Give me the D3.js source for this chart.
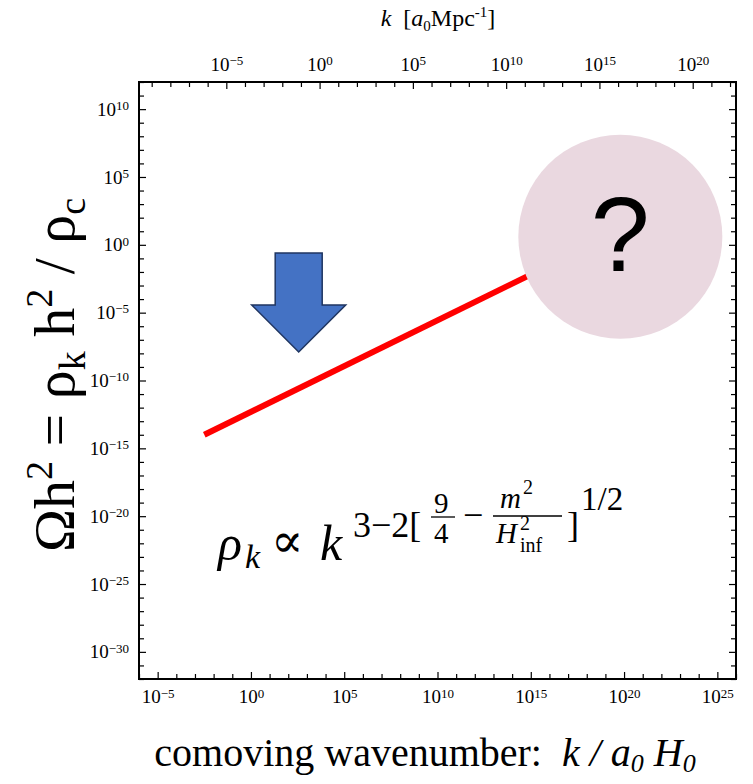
<!DOCTYPE html>
<html>
<meta charset="utf-8">
<head>
<script src="https://d3js.org/d3.v7.min.js"></script>
<title>relic energy density vs k</title>
<style>
html, body {
	margin: 0;
	padding: 0;
	background: #fff;
}
svg {
	display: block;
	font-family: 'Liberation Serif', 'DejaVu Serif', serif;
}
</style>
</head>
<body>
<svg width="753" height="784"></svg>
<script>
// ---- data (log10 exponents) ----
var xDomainExp = [-6, 26];          // k / a0 H0
var yDomainExp = [-32, 12];         // Omega h^2
var topOffsetExp = 3.68;            // k [a0 Mpc^-1] = (k / a0 H0) / 10^3.68
var xMajor = [-5, 0, 5, 10, 15, 20, 25];
var topMajor = [-5, 0, 5, 10, 15, 20];
var yMajor = [10, 5, 0, -5, -10, -15, -20, -25, -30];
var lineKExp = [-2.5, 18];
var lineOmegaExp = [-14, -0.17];
var blobKExp = 19.8, blobOmegaExp = 0.6;
var arrowKExp = 2.56, arrowTopExp = -0.6, arrowTipExp = -7.9;

var pLeft = 139, pRight = 736, pTop = 82, pBottom = 679;
var svg = d3.select("svg");

var x = d3.scaleLog()
	.domain(xDomainExp.map(function(e) { return Math.pow(10, e); }))
	.range([pLeft, pRight]);
var xTop = d3.scaleLog()
	.domain(xDomainExp.map(function(e) { return Math.pow(10, e - topOffsetExp); }))
	.range([pLeft, pRight]);
var y = d3.scaleLog()
	.domain(yDomainExp.map(function(e) { return Math.pow(10, e); }))
	.range([pBottom, pTop]);

function decades(lo, hi) {
	return d3.range(Math.ceil(lo), Math.floor(hi) + 1).map(function(e) { return Math.pow(10, e); });
}
function expOf(d) { return Math.round(Math.log10(d)); }

// label "10^e" with a superscript
function powLabel(sel, majors) {
	sel.each(function(d) {
		var t = d3.select(this).text(null);
		var e = expOf(d);
		if (majors.indexOf(e) < 0) return;
		t.append("tspan").text("10");
		t.append("tspan").attr("dy", "-0.45em").attr("font-size", 13)
			.text(String(e).replace("-", "\u2212"));
	});
}

// attr: which end of the tick line to set, sign: direction into the plot
function styleAxis(g, majors, attr, sign) {
	g.attr("font-family", null).attr("font-size", 19);
	g.select(".domain").remove();
	g.selectAll(".tick line")
		.attr("stroke", "#000")
		.attr("stroke-width", 1.2)
		.attr(attr, function(d) { return sign * (majors.indexOf(expOf(d)) >= 0 ? 7 : 5); });
	g.selectAll(".tick text").attr("fill", "#000").call(powLabel, majors);
}

var xTicks = decades(xDomainExp[0], xDomainExp[1]);
var topTicks = decades(xDomainExp[0] - topOffsetExp, xDomainExp[1] - topOffsetExp);
var yTicks = decades(yDomainExp[0], yDomainExp[1]);

// bottom
var gB = svg.append("g").attr("transform", "translate(0," + pBottom + ")")
	.call(d3.axisBottom(x).tickValues(xTicks).tickSizeInner(-5).tickSizeOuter(0).tickPadding(11));
styleAxis(gB, xMajor, "y2", -1);
// top
var gT = svg.append("g").attr("transform", "translate(0," + pTop + ")")
	.call(d3.axisTop(xTop).tickValues(topTicks).tickSizeInner(-5).tickSizeOuter(0).tickPadding(11));
styleAxis(gT, topMajor, "y2", 1);
// left
var gL = svg.append("g").attr("transform", "translate(" + pLeft + ",0)")
	.call(d3.axisLeft(y).tickValues(yTicks).tickSizeInner(-5).tickSizeOuter(0).tickPadding(10));
styleAxis(gL, yMajor, "x2", 1);
// right (ticks only)
var gR = svg.append("g").attr("transform", "translate(" + pRight + ",0)")
	.call(d3.axisRight(y).tickValues(yTicks).tickSizeInner(-5).tickSizeOuter(0));
styleAxis(gR, [], "x2", -1);
gR.selectAll(".tick line").attr("x2", function(d) { return yMajor.indexOf(expOf(d)) >= 0 ? -7 : -5; });

// frame
svg.append("rect")
	.attr("x", pLeft).attr("y", pTop)
	.attr("width", pRight - pLeft).attr("height", pBottom - pTop)
	.attr("fill", "none").attr("stroke", "#000").attr("stroke-width", 2);

// red power-law line
var lineData = lineKExp.map(function(e, i) {
	return [Math.pow(10, e), Math.pow(10, lineOmegaExp[i])];
});
svg.append("path")
	.datum(lineData)
	.attr("d", d3.line().x(function(d) { return x(d[0]); }).y(function(d) { return y(d[1]); }))
	.attr("stroke", "#ff0000")
	.attr("stroke-width", 6)
	.attr("fill", "none");

// unknown region blob
var bx = x(Math.pow(10, blobKExp)), by = y(Math.pow(10, blobOmegaExp));
svg.append("circle")
	.attr("cx", bx).attr("cy", by).attr("r", 102)
	.attr("fill", "#ead8e0");
svg.append("text")
	.attr("x", bx).attr("y", by + 34)
	.attr("text-anchor", "middle")
	.attr("font-family", "'Liberation Sans', Arial, sans-serif")
	.attr("font-size", 106)
	.text("?");

// blue down arrow
var ax = x(Math.pow(10, arrowKExp));
var aTop = y(Math.pow(10, arrowTopExp));
var aTip = y(Math.pow(10, arrowTipExp));
var shaft = 23.5, head = 47, headBase = aTip - 47;
svg.append("path")
	.attr("d", "M" + (ax - shaft) + "," + aTop +
		"L" + (ax + shaft) + "," + aTop +
		"L" + (ax + shaft) + "," + headBase +
		"L" + (ax + head) + "," + headBase +
		"L" + ax + "," + aTip +
		"L" + (ax - head) + "," + headBase +
		"L" + (ax - shaft) + "," + headBase + "Z")
	.attr("fill", "#4472c4")
	.attr("stroke", "#1f3560")
	.attr("stroke-width", 1.5);

// formula rho_k ∝ k^{3-2[9/4 - m^2/H^2_inf]^{1/2}}
var f = svg.append("g").attr("transform", "translate(218,560)");
function ft(xp, yp, size, txt, italic) {
	return f.append("text").attr("x", xp).attr("y", yp).attr("font-size", size)
		.attr("font-style", italic ? "italic" : null).text(txt);
}
ft(0, 0, 50, "\u03c1", true);
ft(27, 8, 34, "k", true);
ft(53, -3, 48, "\u221d", false).attr("font-family", "'DejaVu Serif', serif");
ft(102, 0, 50, "k", true);
ft(135, -23, 36, "3\u22122[", false);
ft(216, -47, 29, "9", false);
ft(216, -17, 29, "4", false);
f.append("line").attr("x1", 213).attr("x2", 237).attr("y1", -43).attr("y2", -43).attr("stroke", "#000").attr("stroke-width", 1.3);
ft(245, -33, 36, "\u2212", false);
ft(282, -52, 29, "m", true);
ft(305, -66, 20, "2", false);
f.append("line").attr("x1", 275).attr("x2", 344).attr("y1", -44).attr("y2", -44).attr("stroke", "#000").attr("stroke-width", 1.3);
ft(278, -17, 29, "H", true);
ft(302, -30, 20, "2", false);
ft(302, -8, 20, "inf", false);
ft(349, -23, 36, "]", false);
ft(363, -50, 33, "1/2", false);

// y label
svg.append("text")
	.attr("transform", "translate(74,375) rotate(-90)")
	.attr("text-anchor", "middle")
	.attr("font-size", 58)
	.attr("xml:space", "preserve")
	.call(function(t) {
		t.append("tspan").text("\u03a9h");
		t.append("tspan").attr("dy", -22).attr("font-size", 38).text("2");
		t.append("tspan").attr("dy", 22).text(" = \u03c1");
		t.append("tspan").attr("dy", 11).attr("font-size", 38).text("k");
		t.append("tspan").attr("dy", -11).text(" h");
		t.append("tspan").attr("dy", -22).attr("font-size", 38).text("2");
		t.append("tspan").attr("dy", 22).text(" / \u03c1");
		t.append("tspan").attr("dy", 11).attr("font-size", 38).text("c");
	});

// bottom label
svg.append("text")
	.attr("x", 425).attr("y", 766)
	.attr("text-anchor", "middle")
	.attr("font-size", 40)
	.attr("xml:space", "preserve")
	.call(function(t) {
		t.append("tspan").text("comoving wavenumber:  ");
		t.append("tspan").attr("font-style", "italic").text("k / a");
		t.append("tspan").attr("font-style", "italic").attr("font-size", 26).attr("dy", 6).text("0");
		t.append("tspan").attr("font-style", "italic").attr("dy", -6).text(" H");
		t.append("tspan").attr("font-style", "italic").attr("font-size", 26).attr("dy", 6).text("0");
	});

// top label
svg.append("text")
	.attr("x", 438).attr("y", 26)
	.attr("text-anchor", "middle")
	.attr("font-size", 24)
	.attr("xml:space", "preserve")
	.call(function(t) {
		t.append("tspan").attr("font-style", "italic").text("k");
		t.append("tspan").text("  [");
		t.append("tspan").attr("font-style", "italic").text("a");
		t.append("tspan").attr("font-size", 15).attr("dy", 5).text("0");
		t.append("tspan").attr("dy", -5).text("Mpc");
		t.append("tspan").attr("font-size", 15).attr("dy", -9).text("-1");
		t.append("tspan").attr("dy", 9).text("]");
	});
</script>
</body>
</html>
